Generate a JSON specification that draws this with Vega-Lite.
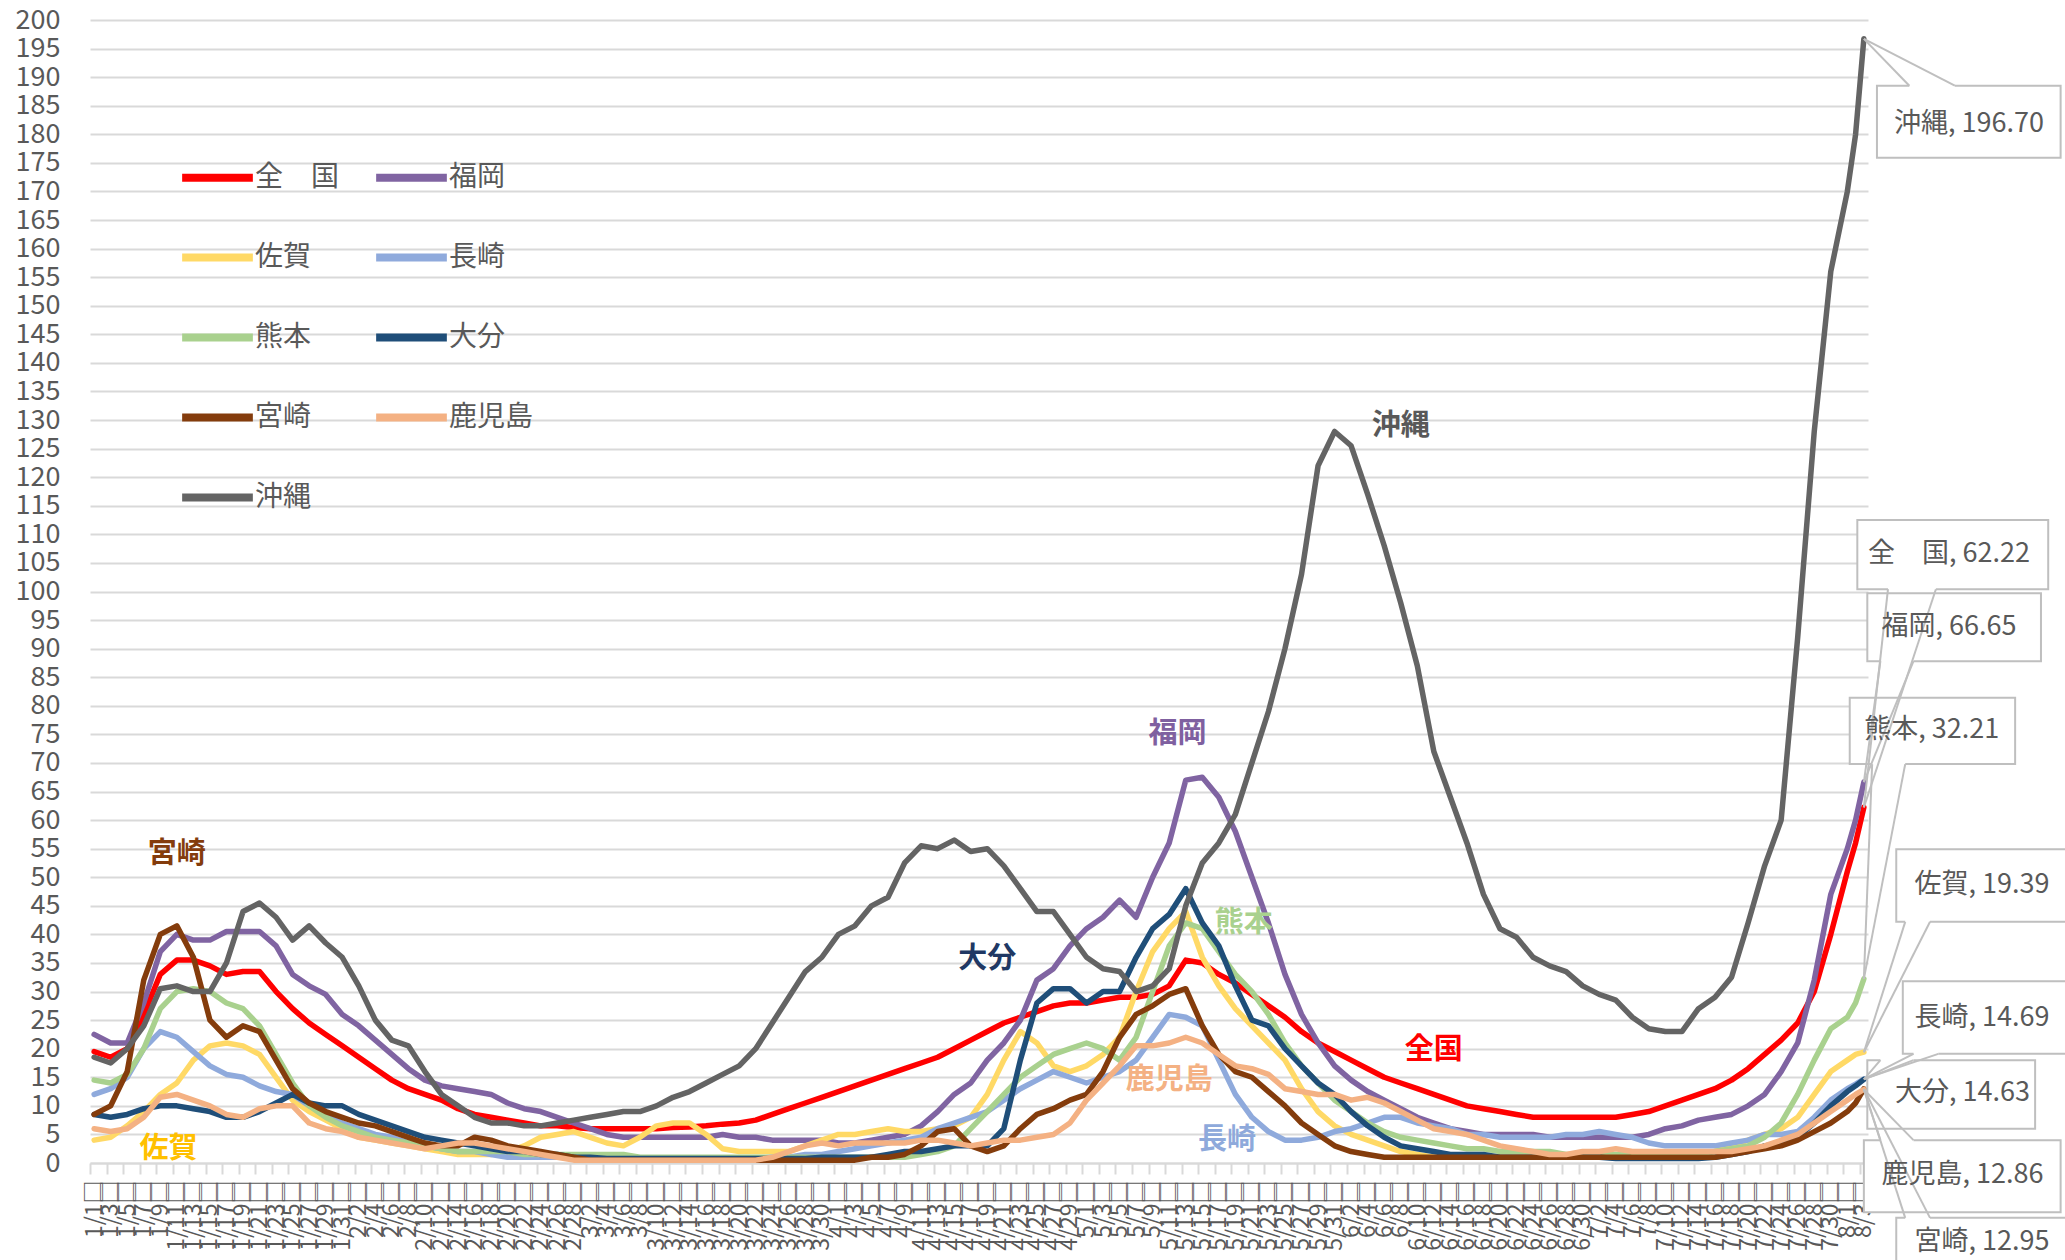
{
"$schema": "https://vega.github.io/schema/vega-lite/v6.json",
"width": 1778, "height": 1143,
"autosize": {"type": "none"},
"padding": {"left": 90, "top": 20, "right": 197, "bottom": 97},
"background": "white",
"config": {"font": "Noto Sans CJK JP", "view": {"stroke": null}},
"title": {"text": "（人） 新規感染者数（２週間移動合計）の推移　[その他５]　（対人口10万人）　2021/1/1　～　2021/8/3", "anchor": "start", "frame": "bounds", "fontSize": 38, "fontWeight": "bold", "color": "#404040", "baseline": "bottom", "offset": 0, "dy": 30, "font": "Noto Sans CJK JP"},
"datasets": {
"series": [
{"date":"2021-01-01","全　国":19.5,"福岡":22.5,"佐賀":4,"長崎":12,"熊本":14.5,"大分":8.5,"宮崎":8.5,"鹿児島":6,"沖縄":18.5},
{"date":"2021-01-03","全　国":18.5,"福岡":21,"佐賀":4.5,"長崎":13,"熊本":14,"大分":8,"宮崎":10,"鹿児島":5.5,"沖縄":17.5},
{"date":"2021-01-05","全　国":20,"福岡":21,"佐賀":6.5,"長崎":15,"熊本":15.5,"大分":8.5,"宮崎":16,"鹿児島":6,"沖縄":20},
{"date":"2021-01-07","全　国":26,"福岡":28,"佐賀":9,"長崎":20,"熊本":20,"大分":9.5,"宮崎":32,"鹿児島":8,"沖縄":24},
{"date":"2021-01-09","全　国":33,"福岡":37,"佐賀":12,"長崎":23,"熊本":27,"大分":10,"宮崎":40,"鹿児島":11.5,"沖縄":30.5},
{"date":"2021-01-11","全　国":35.5,"福岡":40,"佐賀":14,"長崎":22,"熊本":30,"大分":10,"宮崎":41.5,"鹿児島":12,"沖縄":31},
{"date":"2021-01-13","全　国":35.5,"福岡":39,"佐賀":18,"長崎":19.5,"熊本":30.5,"大分":9.5,"宮崎":36,"鹿児島":11,"沖縄":30},
{"date":"2021-01-15","全　国":34.5,"福岡":39,"佐賀":20.5,"長崎":17,"熊本":30,"大分":9,"宮崎":25,"鹿児島":10,"沖縄":30},
{"date":"2021-01-17","全　国":33,"福岡":40.5,"佐賀":21,"長崎":15.5,"熊本":28,"大分":8,"宮崎":22,"鹿児島":8.5,"沖縄":35},
{"date":"2021-01-19","全　国":33.5,"福岡":40.5,"佐賀":20.5,"長崎":15,"熊本":27,"大分":8,"宮崎":24,"鹿児島":8,"沖縄":44},
{"date":"2021-01-21","全　国":33.5,"福岡":40.5,"佐賀":19,"長崎":13.5,"熊本":24,"大分":9,"宮崎":23,"鹿児島":9.5,"沖縄":45.5},
{"date":"2021-01-23","全　国":30,"福岡":38,"佐賀":15,"長崎":12.5,"熊本":19,"大分":10.5,"宮崎":18,"鹿児島":10,"沖縄":43},
{"date":"2021-01-25","全　国":27,"福岡":33,"佐賀":11,"長崎":12,"熊本":14,"大分":12,"宮崎":13,"鹿児島":10,"沖縄":39},
{"date":"2021-01-27","全　国":24.5,"福岡":31,"佐賀":9,"長崎":10,"熊本":10,"大分":10.5,"宮崎":10.5,"鹿児島":7,"沖縄":41.5},
{"date":"2021-01-29","全　国":22.5,"福岡":29.5,"佐賀":7.5,"長崎":8.5,"熊本":8,"大分":10,"宮崎":9,"鹿児島":6,"沖縄":38.5},
{"date":"2021-01-31","全　国":20.5,"福岡":26,"佐賀":6,"長崎":7,"熊本":6.5,"大分":10,"宮崎":8,"鹿児島":5.5,"沖縄":36},
{"date":"2021-02-02","全　国":18.5,"福岡":24,"佐賀":4.5,"長崎":6,"熊本":5.5,"大分":8.5,"宮崎":7,"鹿児島":4.5,"沖縄":31},
{"date":"2021-02-04","全　国":16.5,"福岡":21.5,"佐賀":4,"長崎":5,"熊本":4.5,"大分":7.5,"宮崎":6.5,"鹿児島":4,"沖縄":25},
{"date":"2021-02-06","全　国":14.5,"福岡":19,"佐賀":3.5,"長崎":4.5,"熊本":4,"大分":6.5,"宮崎":5.5,"鹿児島":3.5,"沖縄":21.5},
{"date":"2021-02-08","全　国":13,"福岡":16.5,"佐賀":3,"長崎":3.5,"熊本":3.5,"大分":5.5,"宮崎":4.5,"鹿児島":3,"沖縄":20.5},
{"date":"2021-02-10","全　国":12,"福岡":14.5,"佐賀":2.5,"長崎":3,"熊本":3,"大分":4.5,"宮崎":3.5,"鹿児島":2.5,"沖縄":16},
{"date":"2021-02-12","全　国":11,"福岡":13.5,"佐賀":2,"長崎":2.5,"熊本":2.5,"大分":4,"宮崎":3,"鹿児島":3,"沖縄":12},
{"date":"2021-02-14","全　国":9.5,"福岡":13,"佐賀":1.5,"長崎":2,"熊本":2,"大分":3.5,"宮崎":3,"鹿児島":3.5,"沖縄":10},
{"date":"2021-02-16","全　国":8.5,"福岡":12.5,"佐賀":1.5,"長崎":2,"熊本":2,"大分":3,"宮崎":4.5,"鹿児島":3.5,"沖縄":8},
{"date":"2021-02-18","全　国":8,"福岡":12,"佐賀":1.5,"長崎":1.5,"熊本":2,"大分":2.5,"宮崎":4,"鹿児島":3,"沖縄":7},
{"date":"2021-02-20","全　国":7.5,"福岡":10.5,"佐賀":2,"長崎":1,"熊本":2,"大分":2,"宮崎":3,"鹿児島":2.5,"沖縄":7},
{"date":"2021-02-22","全　国":7,"福岡":9.5,"佐賀":3,"長崎":1,"熊本":1.5,"大分":2,"宮崎":2.5,"鹿児島":2,"沖縄":6.5},
{"date":"2021-02-24","全　国":6.5,"福岡":9,"佐賀":4.5,"長崎":1,"熊本":1.5,"大分":1.5,"宮崎":2,"鹿児島":1.5,"沖縄":6.5},
{"date":"2021-02-26","全　国":6.5,"福岡":8,"佐賀":5,"長崎":1,"熊本":1.5,"大分":1.5,"宮崎":1.5,"鹿児島":1,"沖縄":7},
{"date":"2021-02-28","全　国":6.2,"福岡":7,"佐賀":5.5,"長崎":1,"熊本":1.5,"大分":1,"宮崎":1,"鹿児島":0.5,"沖縄":7.5},
{"date":"2021-03-02","全　国":6,"福岡":6,"佐賀":4.5,"長崎":0.8,"熊本":1.5,"大分":1,"宮崎":0.5,"鹿児島":0.5,"沖縄":8},
{"date":"2021-03-04","全　国":6,"福岡":5,"佐賀":3.5,"長崎":0.8,"熊本":1.5,"大分":0.8,"宮崎":0.5,"鹿児島":0.5,"沖縄":8.5},
{"date":"2021-03-06","全　国":6,"福岡":4.5,"佐賀":3,"長崎":0.8,"熊本":1.5,"大分":0.8,"宮崎":0.5,"鹿児島":0.5,"沖縄":9},
{"date":"2021-03-08","全　国":6,"福岡":4.5,"佐賀":4.5,"長崎":0.8,"熊本":1,"大分":0.8,"宮崎":0.5,"鹿児島":0.5,"沖縄":9},
{"date":"2021-03-10","全　国":6,"福岡":4.5,"佐賀":6.5,"長崎":0.8,"熊本":1,"大分":0.8,"宮崎":0.5,"鹿児島":0.5,"沖縄":10},
{"date":"2021-03-12","全　国":6.2,"福岡":4.5,"佐賀":7,"長崎":0.8,"熊本":1,"大分":0.8,"宮崎":0.5,"鹿児島":0.5,"沖縄":11.5},
{"date":"2021-03-14","全　国":6.3,"福岡":4.5,"佐賀":7,"長崎":0.8,"熊本":1,"大分":0.8,"宮崎":0.5,"鹿児島":0.5,"沖縄":12.5},
{"date":"2021-03-16","全　国":6.5,"福岡":4.5,"佐賀":5,"長崎":0.8,"熊本":1,"大分":0.8,"宮崎":0.5,"鹿児島":0.5,"沖縄":14},
{"date":"2021-03-18","全　国":6.8,"福岡":5,"佐賀":2.5,"長崎":0.8,"熊本":1,"大分":0.8,"宮崎":0.5,"鹿児島":0.5,"沖縄":15.5},
{"date":"2021-03-20","全　国":7,"福岡":4.5,"佐賀":2,"長崎":0.8,"熊本":1,"大分":0.8,"宮崎":0.5,"鹿児島":0.5,"沖縄":17},
{"date":"2021-03-22","全　国":7.5,"福岡":4.5,"佐賀":2,"長崎":0.8,"熊本":1,"大分":0.8,"宮崎":0.5,"鹿児島":0.5,"沖縄":20},
{"date":"2021-03-24","全　国":8.5,"福岡":4,"佐賀":2,"長崎":1,"熊本":1,"大分":0.8,"宮崎":0.5,"鹿児島":1,"沖縄":24.5},
{"date":"2021-03-26","全　国":9.5,"福岡":4,"佐賀":2,"長崎":1,"熊本":1,"大分":0.8,"宮崎":0.5,"鹿児島":2,"沖縄":29},
{"date":"2021-03-28","全　国":10.5,"福岡":4,"佐賀":3,"長崎":1.5,"熊本":1,"大分":0.8,"宮崎":0.5,"鹿児島":3,"沖縄":33.5},
{"date":"2021-03-30","全　国":11.5,"福岡":4,"佐賀":4,"長崎":1.5,"熊本":1,"大分":1,"宮崎":0.5,"鹿児島":3.5,"沖縄":36},
{"date":"2021-04-01","全　国":12.5,"福岡":3.5,"佐賀":5,"長崎":2,"熊本":1,"大分":1,"宮崎":0.5,"鹿児島":3,"沖縄":40},
{"date":"2021-04-03","全　国":13.5,"福岡":3.5,"佐賀":5,"長崎":2.5,"熊本":1,"大分":1,"宮崎":0.5,"鹿児島":3.5,"沖縄":41.5},
{"date":"2021-04-05","全　国":14.5,"福岡":4,"佐賀":5.5,"長崎":3,"熊本":1,"大分":1,"宮崎":1,"鹿児島":3.5,"沖縄":45},
{"date":"2021-04-07","全　国":15.5,"福岡":4.5,"佐賀":6,"長崎":3.5,"熊本":1,"大分":1.5,"宮崎":1,"鹿児島":3.5,"沖縄":46.5},
{"date":"2021-04-09","全　国":16.5,"福岡":5,"佐賀":5.5,"長崎":4,"熊本":1,"大分":2,"宮崎":1.5,"鹿児島":3.5,"沖縄":52.5},
{"date":"2021-04-11","全　国":17.5,"福岡":6.5,"佐賀":5.5,"長崎":4.5,"熊本":1.5,"大分":2,"宮崎":3,"鹿児島":4,"沖縄":55.5},
{"date":"2021-04-13","全　国":18.5,"福岡":9,"佐賀":6,"長崎":6,"熊本":2,"大分":2.5,"宮崎":5.5,"鹿児島":4,"沖縄":55},
{"date":"2021-04-15","全　国":20,"福岡":12,"佐賀":6.5,"長崎":7,"熊本":3,"大分":3,"宮崎":6,"鹿児島":3.5,"沖縄":56.5},
{"date":"2021-04-17","全　国":21.5,"福岡":14,"佐賀":8,"長崎":8,"熊本":6,"大分":3,"宮崎":3,"鹿児島":3,"沖縄":54.5},
{"date":"2021-04-19","全　国":23,"福岡":18,"佐賀":12,"長崎":9,"熊本":9,"大分":3,"宮崎":2,"鹿児島":3.5,"沖縄":55},
{"date":"2021-04-21","全　国":24.5,"福岡":21,"佐賀":18,"長崎":11,"熊本":12,"大分":6,"宮崎":3,"鹿児島":4,"沖縄":52},
{"date":"2021-04-23","全　国":25.5,"福岡":25,"佐賀":23,"長崎":13,"熊本":15,"大分":18,"宮崎":6,"鹿児島":4,"沖縄":48},
{"date":"2021-04-25","全　国":26.5,"福岡":32,"佐賀":21,"長崎":14.5,"熊本":17,"大分":28,"宮崎":8.5,"鹿児島":4.5,"沖縄":44},
{"date":"2021-04-27","全　国":27.5,"福岡":34,"佐賀":17,"長崎":16,"熊本":19,"大分":30.5,"宮崎":9.5,"鹿児島":5,"沖縄":44},
{"date":"2021-04-29","全　国":28,"福岡":38,"佐賀":16,"長崎":15,"熊本":20,"大分":30.5,"宮崎":11,"鹿児島":7,"沖縄":40},
{"date":"2021-05-01","全　国":28,"福岡":41,"佐賀":17,"長崎":14,"熊本":21,"大分":28,"宮崎":12,"鹿児島":11,"沖縄":36},
{"date":"2021-05-03","全　国":28.5,"福岡":43,"佐賀":19,"長崎":15,"熊本":20,"大分":30,"宮崎":16,"鹿児島":14,"沖縄":34},
{"date":"2021-05-05","全　国":29,"福岡":46,"佐賀":22,"長崎":16,"熊本":18,"大分":30,"宮崎":22,"鹿児島":17,"沖縄":33.5},
{"date":"2021-05-07","全　国":29,"福岡":43,"佐賀":30,"長崎":18,"熊本":22,"大分":36,"宮崎":26,"鹿児島":20.5,"沖縄":30},
{"date":"2021-05-09","全　国":29.5,"福岡":50,"佐賀":37,"長崎":22,"熊本":30,"大分":41,"宮崎":27.5,"鹿児島":20.5,"沖縄":31},
{"date":"2021-05-11","全　国":31,"福岡":56,"佐賀":41,"長崎":26,"熊本":38,"大分":43.5,"宮崎":29.5,"鹿児島":21,"沖縄":34},
{"date":"2021-05-13","全　国":35.5,"福岡":67,"佐賀":44,"長崎":25.5,"熊本":42,"大分":48,"宮崎":30.5,"鹿児島":22,"沖縄":45},
{"date":"2021-05-15","全　国":35,"福岡":67.5,"佐賀":36,"長崎":24,"熊本":41,"大分":42,"宮崎":24,"鹿児島":21,"沖縄":52.5},
{"date":"2021-05-17","全　国":33,"福岡":64,"佐賀":31,"長崎":18,"熊本":37,"大分":38,"宮崎":19,"鹿児島":19,"沖縄":56},
{"date":"2021-05-19","全　国":31.5,"福岡":58,"佐賀":27,"長崎":12,"熊本":33,"大分":31,"宮崎":16,"鹿児島":17,"沖縄":61},
{"date":"2021-05-21","全　国":29.5,"福岡":50,"佐賀":24,"長崎":8,"熊本":30,"大分":25,"宮崎":15,"鹿児島":16.5,"沖縄":70},
{"date":"2021-05-23","全　国":27.5,"福岡":42,"佐賀":21,"長崎":5.5,"熊本":26,"大分":24,"宮崎":12.5,"鹿児島":15.5,"沖縄":79},
{"date":"2021-05-25","全　国":25.5,"福岡":33,"佐賀":18,"長崎":4,"熊本":21,"大分":20,"宮崎":10,"鹿児島":13,"沖縄":90},
{"date":"2021-05-27","全　国":23,"福岡":26,"佐賀":13,"長崎":4,"熊本":17,"大分":17,"宮崎":7,"鹿児島":12.5,"沖縄":103},
{"date":"2021-05-29","全　国":21,"福岡":21,"佐賀":9,"長崎":4.5,"熊本":14,"大分":14,"宮崎":5,"鹿児島":12,"沖縄":122},
{"date":"2021-05-31","全　国":19.5,"福岡":17,"佐賀":6.5,"長崎":5.5,"熊本":11,"大分":12,"宮崎":3,"鹿児島":12,"沖縄":128},
{"date":"2021-06-02","全　国":18,"福岡":14.5,"佐賀":5,"長崎":6,"熊本":9,"大分":9,"宮崎":2,"鹿児島":11,"沖縄":125.5},
{"date":"2021-06-04","全　国":16.5,"福岡":12.5,"佐賀":4,"長崎":7,"熊本":7,"大分":6.5,"宮崎":1.5,"鹿児島":11.5,"沖縄":117},
{"date":"2021-06-06","全　国":15,"福岡":11,"佐賀":3,"長崎":8,"熊本":5.5,"大分":4.5,"宮崎":1,"鹿児島":10.5,"沖縄":108},
{"date":"2021-06-08","全　国":14,"福岡":9.5,"佐賀":2,"長崎":8,"熊本":4.5,"大分":3,"宮崎":1,"鹿児島":9,"沖縄":98},
{"date":"2021-06-10","全　国":13,"福岡":8,"佐賀":1.5,"長崎":7,"熊本":4,"大分":2.5,"宮崎":1,"鹿児島":7.5,"沖縄":87},
{"date":"2021-06-12","全　国":12,"福岡":7,"佐賀":1,"長崎":6.5,"熊本":3.5,"大分":2,"宮崎":1,"鹿児島":6,"沖縄":72},
{"date":"2021-06-14","全　国":11,"福岡":6,"佐賀":1,"長崎":6,"熊本":3,"大分":1.5,"宮崎":1,"鹿児島":5.5,"沖縄":64},
{"date":"2021-06-16","全　国":10,"福岡":5.5,"佐賀":1,"長崎":5,"熊本":2.5,"大分":1.5,"宮崎":1,"鹿児島":5,"沖縄":56},
{"date":"2021-06-18","全　国":9.5,"福岡":5,"佐賀":1,"長崎":5,"熊本":2.5,"大分":1.5,"宮崎":1,"鹿児島":4,"沖縄":47},
{"date":"2021-06-20","全　国":9,"福岡":5,"佐賀":1,"長崎":4.5,"熊本":2,"大分":1,"宮崎":1,"鹿児島":3,"沖縄":41},
{"date":"2021-06-22","全　国":8.5,"福岡":5,"佐賀":1,"長崎":4.5,"熊本":2,"大分":1,"宮崎":1,"鹿児島":2.5,"沖縄":39.5},
{"date":"2021-06-24","全　国":8,"福岡":5,"佐賀":1,"長崎":4.5,"熊本":2,"大分":1,"宮崎":1,"鹿児島":2,"沖縄":36},
{"date":"2021-06-26","全　国":8,"福岡":4.5,"佐賀":1,"長崎":4.5,"熊本":2,"大分":1,"宮崎":1,"鹿児島":1.5,"沖縄":34.5},
{"date":"2021-06-28","全　国":8,"福岡":4.5,"佐賀":1,"長崎":5,"熊本":1.5,"大分":1,"宮崎":1,"鹿児島":1.5,"沖縄":33.5},
{"date":"2021-06-30","全　国":8,"福岡":4.5,"佐賀":1,"長崎":5,"熊本":1.5,"大分":1,"宮崎":1,"鹿児島":2,"沖縄":31},
{"date":"2021-07-02","全　国":8,"福岡":4.5,"佐賀":1,"長崎":5.5,"熊本":1.5,"大分":1,"宮崎":1,"鹿児島":2,"沖縄":29.5},
{"date":"2021-07-04","全　国":8,"福岡":4.5,"佐賀":1,"長崎":5,"熊本":1.5,"大分":0.8,"宮崎":1,"鹿児島":2.5,"沖縄":28.5},
{"date":"2021-07-06","全　国":8.5,"福岡":4.5,"佐賀":1,"長崎":4.5,"熊本":1.5,"大分":0.8,"宮崎":1,"鹿児島":2,"沖縄":25.5},
{"date":"2021-07-08","全　国":9,"福岡":5,"佐賀":1,"長崎":3.5,"熊本":1.5,"大分":0.8,"宮崎":1,"鹿児島":2,"沖縄":23.5},
{"date":"2021-07-10","全　国":10,"福岡":6,"佐賀":1,"長崎":3,"熊本":1.5,"大分":0.8,"宮崎":1,"鹿児島":2,"沖縄":23},
{"date":"2021-07-12","全　国":11,"福岡":6.5,"佐賀":1,"長崎":3,"熊本":1.5,"大分":0.8,"宮崎":1,"鹿児島":2,"沖縄":23},
{"date":"2021-07-14","全　国":12,"福岡":7.5,"佐賀":1.5,"長崎":3,"熊本":1.5,"大分":0.8,"宮崎":1,"鹿児島":2,"沖縄":27},
{"date":"2021-07-16","全　国":13,"福岡":8,"佐賀":2,"長崎":3,"熊本":2,"大分":1,"宮崎":1,"鹿児島":2,"沖縄":29},
{"date":"2021-07-18","全　国":14.5,"福岡":8.5,"佐賀":3,"長崎":3.5,"熊本":2.5,"大分":1.5,"宮崎":1.5,"鹿児島":2,"沖縄":32.5},
{"date":"2021-07-20","全　国":16.5,"福岡":10,"佐賀":4,"長崎":4,"熊本":3,"大分":2,"宮崎":2,"鹿児島":2.5,"沖縄":42},
{"date":"2021-07-22","全　国":19,"福岡":12,"佐賀":5,"長崎":5,"熊本":4.5,"大分":3,"宮崎":2.5,"鹿児島":3,"沖縄":52},
{"date":"2021-07-24","全　国":21.5,"福岡":16,"佐賀":6,"長崎":5,"熊本":7,"大分":3.5,"宮崎":3,"鹿児島":4,"沖縄":60},
{"date":"2021-07-26","全　国":24.5,"福岡":21,"佐賀":8,"長崎":5.5,"熊本":12,"大分":4.5,"宮崎":4,"鹿児島":5,"沖縄":92},
{"date":"2021-07-28","全　国":30,"福岡":32,"佐賀":12,"長崎":8,"熊本":18,"大分":7,"宮崎":5.5,"鹿児島":7,"沖縄":128},
{"date":"2021-07-30","全　国":40,"福岡":47,"佐賀":16,"長崎":11,"熊本":23.5,"大分":10,"宮崎":7,"鹿児島":9,"沖縄":156},
{"date":"2021-08-01","全　国":51,"福岡":55,"佐賀":18,"長崎":13,"熊本":25.5,"大分":12.5,"宮崎":9,"鹿児島":11,"沖縄":170},
{"date":"2021-08-02","全　国":56,"福岡":60,"佐賀":19,"長崎":13.8,"熊本":28,"大分":13.5,"宮崎":10.5,"鹿児島":12,"沖縄":180},
{"date":"2021-08-03","全　国":62.22,"福岡":66.65,"佐賀":19.39,"長崎":14.69,"熊本":32.21,"大分":14.63,"宮崎":12.95,"鹿児島":12.86,"沖縄":196.7}
],
"labels": [
{"label":"宮崎","date":"2021-01-11","value":54},
{"label":"佐賀","date":"2021-01-10","value":2.5},
{"label":"大分","date":"2021-04-19","value":35.7},
{"label":"福岡","date":"2021-05-12","value":75},
{"label":"熊本","date":"2021-05-20","value":42},
{"label":"鹿児島","date":"2021-05-11","value":14.5},
{"label":"長崎","date":"2021-05-18","value":4},
{"label":"沖縄","date":"2021-06-08","value":129},
{"label":"全国","date":"2021-06-12","value":19.8}
],
"callouts": [
{"text":"沖縄, 196.70","tx":"2021-08-15T17:00:00Z","tv":181.8,"bx":"2021-08-04T14:00:00Z","bx2":"2021-08-26T19:00:00Z","bv":188.5,"bv2":175.9,"px":"2021-08-03T00:00:00Z","pv":196.7,"ex":"2021-08-08T12:00:00Z","ex2":"2021-08-14T00:00:00Z","ev":188.5},
{"text":"全　国, 62.22","tx":"2021-08-13T07:00:00Z","tv":106.6,"bx":"2021-08-02T05:00:00Z","bx2":"2021-08-25T07:00:00Z","bv":112.5,"bv2":100.4,"px":"2021-08-03T00:00:00Z","pv":62.22,"ex":"2021-08-05T22:00:00Z","ex2":"2021-08-11T17:00:00Z","ev":100.4},
{"text":"福岡, 66.65","tx":"2021-08-13T07:00:00Z","tv":93.8,"bx":"2021-08-03T10:00:00Z","bx2":"2021-08-24T10:00:00Z","bv":99.7,"bv2":87.8,"px":"2021-08-03T00:00:00Z","pv":66.65,"ex":"2021-08-05T00:00:00Z","ex2":"2021-08-09T00:00:00Z","ev":87.8},
{"text":"熊本, 32.21","tx":"2021-08-11T05:00:00Z","tv":75.8,"bx":"2021-08-01T07:00:00Z","bx2":"2021-08-21T07:00:00Z","bv":81.4,"bv2":69.8,"px":"2021-08-03T00:00:00Z","pv":32.21,"ex":"2021-08-04T00:00:00Z","ex2":"2021-08-08T00:00:00Z","ev":69.8},
{"text":"佐賀, 19.39","tx":"2021-08-17T07:00:00Z","tv":48.6,"bx":"2021-08-06T22:00:00Z","bx2":"2021-08-29T00:00:00Z","bv":54.9,"bv2":42.2,"px":"2021-08-03T00:00:00Z","pv":19.39,"ex":"2021-08-08T00:00:00Z","ex2":"2021-08-11T00:00:00Z","ev":42.2},
{"text":"長崎, 14.69","tx":"2021-08-17T07:00:00Z","tv":25.4,"bx":"2021-08-07T17:00:00Z","bx2":"2021-08-29T00:00:00Z","bv":31.8,"bv2":19.1,"px":"2021-08-03T00:00:00Z","pv":14.69,"ex":"2021-08-09T00:00:00Z","ex2":"2021-08-12T00:00:00Z","ev":19.1},
{"text":"大分, 14.63","tx":"2021-08-14T22:00:00Z","tv":12.2,"bx":"2021-08-03T10:00:00Z","bx2":"2021-08-23T17:00:00Z","bv":18,"bv2":6,"px":"2021-08-03T00:00:00Z","pv":14.63,"ex":"2021-08-05T00:00:00Z","ex2":"2021-08-09T00:00:00Z","ev":18},
{"text":"鹿児島, 12.86","tx":"2021-08-14T22:00:00Z","tv":-2.1,"bx":"2021-08-03T00:00:00Z","bx2":"2021-08-26T19:00:00Z","bv":4,"bv2":-8.6,"px":"2021-08-03T00:00:00Z","pv":12.86,"ex":"2021-08-05T00:00:00Z","ex2":"2021-08-09T00:00:00Z","ev":4},
{"text":"宮崎, 12.95","tx":"2021-08-17T07:00:00Z","tv":-13.8,"bx":"2021-08-06T22:00:00Z","bx2":"2021-08-29T00:00:00Z","bv":-9.6,"bv2":-22,"px":"2021-08-03T00:00:00Z","pv":12.95,"ex":"2021-08-08T00:00:00Z","ex2":"2021-08-11T00:00:00Z","ev":-9.6}
]
},
"layer": [
{
"data": {"name": "series"},
"transform": [{"fold": ["全　国","福岡","佐賀","長崎","熊本","大分","宮崎","鹿児島","沖縄"], "as": ["series","value"]}],
"mark": {"type": "line", "strokeWidth": 5.5, "strokeCap": "round", "strokeJoin": "round"},
"encoding": {
"x": {"field": "date", "type": "temporal",
"scale": {"type": "utc", "domain": [{"year":2020,"month":12,"date":31,"hours":12,"utc":true},{"year":2021,"month":8,"date":3,"hours":12,"utc":true}]},
"axis": {"title": null, "grid": false, "domainColor": "#D9D9D9", "domainWidth": 2,
"tickCount": {"interval": "day", "step": 1},
"tickColor": "#D9D9D9", "tickWidth": 2, "tickSize": 11,
"tickOpacity": {"condition": {"test": "round((datum.value - 1609459200000) / 86400000) % 2 === 0", "value": 1}, "value": 0},
"tickOffset": -4.135, "labelOffset": 4.135,
"labelAngle": 270, "labelAlign": "right", "labelBaseline": "middle",
"labelFontSize": 23, "labelColor": "#595959", "labelPadding": 6,
"labelOverlap": false, "labelFlush": false, "labelBound": false,
"labelExpr": "round((datum.value - 1609459200000) / 86400000) % 2 === 0 ? utcFormat(datum.value, '%-m/%-d') + '□' : ''"}},
"y": {"field": "value", "type": "quantitative",
"scale": {"domain": [0, 200], "nice": false},
"axis": {"title": null, "domain": false, "ticks": false, "grid": true, "gridColor": "#D9D9D9", "gridWidth": 2,
"tickCount": 40,
"labelFontSize": 27, "labelColor": "#595959", "labelPadding": 30, "labelOverlap": false, "labelFlush": false}},
"color": {"field": "series", "type": "nominal",
"scale": {"domain": ["全　国","福岡","佐賀","長崎","熊本","大分","宮崎","鹿児島","沖縄"],
"range": ["#FF0000","#8064A2","#FFD966","#8FAADC","#A9D18E","#1F4E79","#843C0C","#F4B183","#646464"]},
"legend": {"orient": "none", "legendX": 88, "legendY": 118, "columns": 2, "direction": "horizontal",
"symbolType": "stroke", "symbolStrokeWidth": 8, "symbolSize": 5000,
"labelFontSize": 28, "labelColor": "#595959", "labelOffset": -2, "labelLimit": 0,
"rowPadding": 24, "columnPadding": 20, "title": null, "padding": 0}}
}
},
{
"data": {"name": "callouts"},
"mark": {"type": "rect", "fill": "white", "stroke": "#BFBFBF", "strokeWidth": 2},
"encoding": {
"x": {"field": "bx", "type": "temporal"}, "x2": {"field": "bx2"},
"y": {"field": "bv", "type": "quantitative"}, "y2": {"field": "bv2"}
}
},
{
"data": {"name": "callouts"},
"mark": {"type": "rule", "stroke": "white", "strokeWidth": 4},
"encoding": {
"x": {"field": "ex", "type": "temporal"}, "x2": {"field": "ex2"},
"y": {"field": "ev", "type": "quantitative"}
}
},
{
"data": {"name": "callouts"},
"mark": {"type": "rule", "stroke": "#BFBFBF", "strokeWidth": 2},
"encoding": {
"x": {"field": "px", "type": "temporal"}, "x2": {"field": "ex"},
"y": {"field": "pv", "type": "quantitative"}, "y2": {"field": "ev"}
}
},
{
"data": {"name": "callouts"},
"mark": {"type": "rule", "stroke": "#BFBFBF", "strokeWidth": 2},
"encoding": {
"x": {"field": "px", "type": "temporal"}, "x2": {"field": "ex2"},
"y": {"field": "pv", "type": "quantitative"}, "y2": {"field": "ev"}
}
},
{
"data": {"name": "callouts"},
"mark": {"type": "text", "fontSize": 27, "color": "#595959", "align": "center", "baseline": "middle"},
"encoding": {
"x": {"field": "tx", "type": "temporal"},
"y": {"field": "tv", "type": "quantitative"},
"text": {"field": "text"}
}
},
{
"data": {"name": "labels"},
"mark": {"type": "text", "fontSize": 29, "fontWeight": "bold", "align": "center", "baseline": "middle"},
"encoding": {
"x": {"field": "date", "type": "temporal"},
"y": {"field": "value", "type": "quantitative"},
"text": {"field": "label"},
"color": {"field": "label", "type": "nominal",
"scale": {"domain": ["宮崎","佐賀","大分","福岡","熊本","鹿児島","長崎","沖縄","全国"],
"range": ["#843C0C","#FFC000","#203864","#7F60A0","#A9D18E","#F4B183","#8EA9DB","#595959","#FF0000"]},
"legend": null}
}
}
],
"resolve": {"scale": {"color": "independent"}}
}
